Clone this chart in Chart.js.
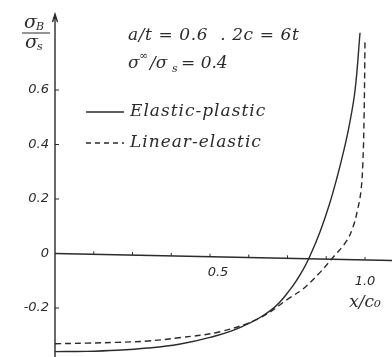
<!DOCTYPE html>
<html>
<head>
<meta charset="utf-8">
<script src="https://cdn.jsdelivr.net/npm/chart.js@4"></script>
<style>
  html, body { margin: 0; padding: 0; background: #fff; }
  #chart { display: block; }
</style>
</head>
<body>
<canvas id="chart" width="392" height="357"></canvas>
<script>
// x / c0 positions and sigma_B / sigma_s values
const plasticX = [0, 0.1, 0.2, 0.3, 0.4, 0.5, 0.6, 0.7, 0.76, 0.8, 0.826, 0.855, 0.885, 0.91, 0.93, 0.95, 0.968, 0.984];
const plasticY = [-0.36, -0.359, -0.355, -0.347, -0.333, -0.308, -0.27, -0.205, -0.13, -0.06, 0, 0.08, 0.18, 0.28, 0.37, 0.475, 0.6, 0.81];
const elasticX = [0, 0.1, 0.2, 0.3, 0.4, 0.532, 0.661, 0.758, 0.8, 0.85, 0.9, 0.94, 0.961, 0.977, 0.987, 0.993, 0.997, 1.0];
const elasticY = [-0.331, -0.329, -0.326, -0.321, -0.309, -0.287, -0.236, -0.162, -0.13, -0.075, -0.01, 0.045, 0.096, 0.165, 0.23, 0.33, 0.5, 0.777];

const yTickValues = [0.6, 0.4, 0.2, 0, -0.2];
const yTickLabels = ['0.6', '0.4', '0.2', '0', '-0.2'];
const xTickValues = [0.125, 0.25, 0.375, 0.5, 0.625, 0.75, 0.875, 1.0];
const xLabelValues = [0.5, 1.0];
const xLabelTexts = ['0.5', '1.0'];

const INK = '#2b2b2b';
const HAND = '"DejaVu Serif"';
const NUM = 'italic 13px "DejaVu Sans"';

const toPoints = (xs, ys) => xs.map((x, i) => ({x: x, y: ys[i]}));

// axes, ticks and the hand-written annotations
const sketchAxes = {
  id: 'sketchAxes',
  beforeDatasetsDraw(chart) {
    const ctx = chart.ctx;
    const sx = chart.scales.x, sy = chart.scales.y;
    const x0 = sx.getPixelForValue(0), y0 = sy.getPixelForValue(0);
    const font = (size) => `italic ${size}px ${HAND}`;
    ctx.save();
    ctx.strokeStyle = INK;
    ctx.lineWidth = 1.4;
    // y axis with arrow
    ctx.beginPath();
    ctx.moveTo(x0, 357); ctx.lineTo(x0, 14);
    ctx.moveTo(x0 - 2.5, 22); ctx.lineTo(x0, 14); ctx.lineTo(x0 + 2.5, 22);
    ctx.stroke();
    // x axis (drifts down a little toward the right, like the sketch)
    ctx.beginPath();
    ctx.moveTo(x0, y0); ctx.lineTo(392, y0 + 7);
    ctx.stroke();
    ctx.lineWidth = 1;
    const slope = 7 / (392 - x0);
    xTickValues.forEach(v => {
      const px = sx.getPixelForValue(v);
      const py = y0 + (px - x0) * slope;
      ctx.beginPath(); ctx.moveTo(px, py); ctx.lineTo(px, py - 3); ctx.stroke();
    });
    yTickValues.forEach(v => {
      if (v === 0) return;
      const py = sy.getPixelForValue(v);
      ctx.beginPath(); ctx.moveTo(x0, py); ctx.lineTo(x0 + 4, py); ctx.stroke();
    });

    ctx.fillStyle = INK;
    ctx.font = NUM;
    ctx.textBaseline = 'middle';
    ctx.textAlign = 'right';
    yTickValues.forEach((v, i) => {
      ctx.fillText(yTickLabels[i], x0 - 6, sy.getPixelForValue(v));
    });
    ctx.textAlign = 'center';
    xLabelValues.forEach((v, i) => {
      const dy = v === 1.0 ? 28 : 19;
      const dx = v === 1.0 ? 0 : 8;
      ctx.fillText(xLabelTexts[i], sx.getPixelForValue(v) + dx, y0 + dy);
    });
    // x axis title
    ctx.font = font(17);
    ctx.fillText('x/c\u2080', sx.getPixelForValue(1.0), y0 + 49);

    // y axis title as a fraction
    ctx.textAlign = 'left';
    ctx.font = font(19);
    ctx.fillText('\u03c3', 24, 23);
    ctx.font = font(11);
    ctx.fillText('B', 36, 27);
    ctx.font = font(19);
    ctx.fillText('\u03c3', 25, 43);
    ctx.font = font(11);
    ctx.fillText('s', 37, 47);
    ctx.beginPath(); ctx.moveTo(22, 33); ctx.lineTo(50, 33); ctx.stroke();

    // parameters
    ctx.font = font(17);
    ctx.letterSpacing = '0.6px';
    ctx.fillText('a/t = 0.6  . 2c = 6t', 128, 36);
    ctx.letterSpacing = '0px';
    ctx.fillText('\u03c3', 128, 64);
    ctx.font = font(11);
    ctx.fillText('\u221e', 139, 56);
    ctx.font = font(17);
    ctx.fillText('/\u03c3', 150, 64);
    ctx.font = font(11);
    ctx.fillText('s', 172, 69);
    ctx.font = font(17);
    ctx.fillText('= 0.4', 181, 64);

    // legend
    ctx.lineWidth = 1.3;
    ctx.beginPath(); ctx.moveTo(86, 112); ctx.lineTo(124, 112); ctx.stroke();
    ctx.setLineDash([5, 4]);
    ctx.beginPath(); ctx.moveTo(86, 143); ctx.lineTo(124, 143); ctx.stroke();
    ctx.setLineDash([]);
    ctx.font = font(17);
    ctx.letterSpacing = '1px';
    ctx.fillText('Elastic-plastic', 130, 112);
    ctx.fillText('Linear-elastic', 130, 143);
    ctx.restore();
  }
};

new Chart(document.getElementById('chart'), {
  type: 'scatter',
  data: {
    datasets: [
      {
        label: 'Elastic-plastic',
        data: toPoints(plasticX, plasticY),
        showLine: true,
        borderColor: INK,
        borderWidth: 1.4,
        pointRadius: 0,
        tension: 0.4,
        clip: false
      },
      {
        label: 'Linear-elastic',
        data: toPoints(elasticX, elasticY),
        showLine: true,
        borderColor: INK,
        borderWidth: 1.4,
        borderDash: [6, 4],
        pointRadius: 0,
        tension: 0.4,
        clip: false
      }
    ]
  },
  options: {
    responsive: false,
    animation: false,
    layout: { padding: { left: 55, right: 27, top: 90, bottom: 49 } },
    plugins: { legend: { display: false }, tooltip: { enabled: false } },
    scales: {
      x: { type: 'linear', min: 0, max: 1.0, display: false },
      y: { type: 'linear', min: -0.2, max: 0.6, display: false }
    }
  },
  plugins: [sketchAxes]
});
</script>
</body>
</html>
